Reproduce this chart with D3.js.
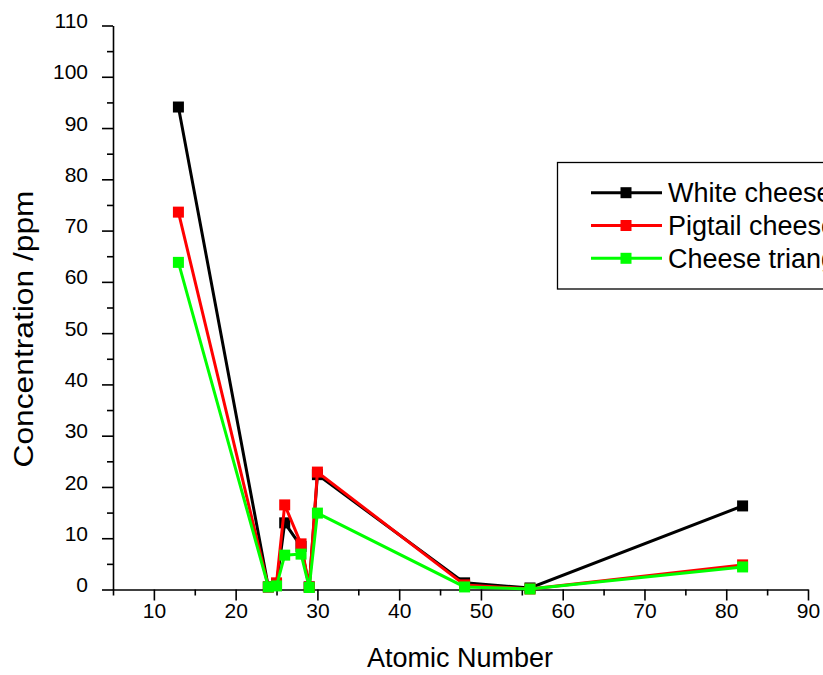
<!DOCTYPE html>
<html>
<head>
<meta charset="utf-8">
<script src="https://cdn.jsdelivr.net/npm/d3@7"></script>
<style>
  body { margin: 0; background: #fff; }
  svg { display: block; font-family: "Liberation Sans", Arial, sans-serif; }
</style>
</head>
<body>
<svg width="823" height="675"></svg>
<script>
// Data
const atomicNumbers = [13, 24, 25, 26, 28, 29, 30, 48, 56, 82];
const whiteCheese = [94.1, 0.5, 1.0, 13.0, 8.4, 0.5, 22.4, 1.3, 0.3, 16.3];
const pigtailCheese = [73.6, 0.5, 1.3, 16.5, 8.9, 0.5, 22.9, 0.9, 0.1, 4.8];
const cheeseTriangle = [63.8, 0.5, 0.7, 6.7, 6.9, 0.4, 14.9, 0.5, 0.1, 4.4];

const seriesNames = ["White cheese", "Pigtail cheese", "Cheese triangle"];
const seriesColors = ["#000000", "#ff0000", "#00ff00"];
const xTicks = [10, 20, 30, 40, 50, 60, 70, 80, 90];
const yTicks = [0, 10, 20, 30, 40, 50, 60, 70, 80, 90, 100, 110];

const series = [whiteCheese, pigtailCheese, cheeseTriangle].map((vals, i) => ({
    name: seriesNames[i],
    color: seriesColors[i],
    points: atomicNumbers.map((a, j) => ({ x: a, y: vals[j] }))
}));

const svg = d3.select("svg");
const margin = { top: 25.5, left: 113 };
const plotRight = 808;
const plotBottom = 589.5;

const x = d3.scaleLinear().domain([5, 90]).range([margin.left, plotRight]);
const y = d3.scaleLinear().domain([0, 110]).range([plotBottom, margin.top]);

// X axis: minor ticks then major ticks with labels
const xAxis = svg.append("g").attr("transform", `translate(0,${plotBottom})`);
xAxis.append("g")
    .call(d3.axisBottom(x).tickValues(d3.range(5, 91, 10)).tickSize(6).tickFormat(""))
    .call(g => g.select(".domain").remove());
xAxis.append("g")
    .call(d3.axisBottom(x).tickValues(xTicks).tickSize(11).tickSizeOuter(0).tickPadding(3))
    .call(g => g.selectAll("text").style("font-size", "21px").attr("fill", "#000"));
xAxis.selectAll("line, path").attr("stroke", "#000").attr("stroke-width", 1.6);

// Y axis
const yAxis = svg.append("g").attr("transform", `translate(${margin.left},0)`);
yAxis.append("g")
    .call(d3.axisLeft(y).tickValues(d3.range(5, 110, 10)).tickSize(6).tickFormat(""))
    .call(g => g.select(".domain").remove());
yAxis.append("g")
    .call(d3.axisLeft(y).tickValues(yTicks).tickSize(11).tickSizeOuter(0).tickPadding(14))
    .call(g => g.selectAll("text")
        .style("font-size", "21px")
        .attr("fill", "#000")
        .attr("dy", "0.1em"));
yAxis.selectAll("line, path").attr("stroke", "#000").attr("stroke-width", 1.6);

// Axis titles
svg.append("text")
    .attr("x", 460)
    .attr("y", 667)
    .attr("text-anchor", "middle")
    .style("font-size", "27px")
    .text("Atomic Number");

svg.append("text")
    .attr("transform", "translate(33,329) rotate(-90)")
    .attr("text-anchor", "middle")
    .attr("textLength", 277)
    .attr("lengthAdjust", "spacingAndGlyphs")
    .style("font-size", "27px")
    .text("Concentration /ppm");

// Lines and markers
const line = d3.line().x(d => x(d.x)).y(d => y(d.y));
const ms = 11;

series.forEach(s => {
    const g = svg.append("g");
    g.append("path")
        .datum(s.points)
        .attr("d", line)
        .attr("fill", "none")
        .attr("stroke", s.color)
        .attr("stroke-width", 3);
    g.selectAll("rect")
        .data(s.points)
        .enter().append("rect")
        .attr("x", d => x(d.x) - ms / 2)
        .attr("y", d => y(d.y) - ms / 2)
        .attr("width", ms)
        .attr("height", ms)
        .attr("fill", s.color);
});

// Legend (box runs past the right edge, as in the original)
const legend = svg.append("g");
legend.append("rect")
    .attr("x", 557.5)
    .attr("y", 162.5)
    .attr("width", 300)
    .attr("height", 126.5)
    .attr("fill", "#fff")
    .attr("stroke", "#000")
    .attr("stroke-width", 1.3);

const rowY = [192.7, 225.5, 258.3];
series.forEach((s, i) => {
    legend.append("line")
        .attr("x1", 591).attr("x2", 662)
        .attr("y1", rowY[i]).attr("y2", rowY[i])
        .attr("stroke", s.color)
        .attr("stroke-width", 3);
    legend.append("rect")
        .attr("x", 626 - ms / 2).attr("y", rowY[i] - ms / 2)
        .attr("width", ms).attr("height", ms)
        .attr("fill", s.color);
    legend.append("text")
        .attr("x", 668)
        .attr("y", rowY[i])
        .attr("dy", "0.35em")
        .style("font-size", "27px")
        .text(s.name);
});
</script>
</body>
</html>
